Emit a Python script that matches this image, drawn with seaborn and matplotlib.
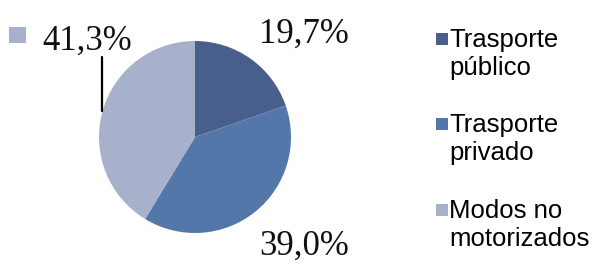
import matplotlib
matplotlib.use("Agg")
import matplotlib.pyplot as plt
from matplotlib.patches import Rectangle
from matplotlib.lines import Line2D
import seaborn as sns

categories = ["Trasporte\npúblico", "Trasporte\nprivado", "Modos no\nmotorizados"]
values = [19.7, 39.0, 41.3]
value_labels = ["19,7%", "39,0%", "41,3%"]
colors = ["#475F8A", "#5477AA", "#A8B1CB"]

sns.set_theme(style="white")
W, H = 600, 273
fig = plt.figure(figsize=(W / 100, H / 100), dpi=100)
fig.patch.set_facecolor("white")

def fx(x):
    return x / W

def fy(y):
    return 1 - y / H

# pie axes: center (195,137) px, radius 96 px
cx, cy, r = 195, 137, 96
ax = fig.add_axes([fx(cx - r), fy(cy + r), 2 * r / W, 2 * r / H])
wedges, _ = ax.pie(values, colors=colors, startangle=90, counterclock=False,
                   wedgeprops=dict(linewidth=0))
ax.set_xlim(-1, 1)
ax.set_ylim(-1, 1)
ax.set_aspect("equal")
ax.axis("off")

serif = dict(family="Liberation Serif", size=25, color="#111111")
# value labels (baseline positions in px)
label_pos = [(259, 43), (259, 255), (42, 50)]
for lab, (x, y) in zip(value_labels, label_pos):
    fig.text(fx(x), fy(y), lab, ha="left", va="baseline", **serif)

# key square beside 41,3%
fig.add_artist(Rectangle((fx(9), fy(43)), 17 / W, 16 / H, transform=fig.transFigure,
                         facecolor=colors[2], edgecolor="none"))
# leader line
fig.add_artist(Line2D([fx(102), fx(102)], [fy(57), fy(111)], transform=fig.transFigure,
                      color="black", lw=1.6))

# legend (manual, to match multi-line layout)
sans = dict(family="Liberation Sans", size=18.5, color="#000000")
base_y = [47, 132, 218]
for lab, col, by in zip(categories, colors, base_y):
    fig.add_artist(Rectangle((fx(436), fy(by - 2)), 12 / W, 12 / H, transform=fig.transFigure,
                             facecolor=col, edgecolor="none"))
    for i, line in enumerate(lab.split("\n")):
        fig.text(fx(449), fy(by + i * 28), line, ha="left", va="baseline", **sans)

fig.savefig("out.png", dpi=100, facecolor="white")
